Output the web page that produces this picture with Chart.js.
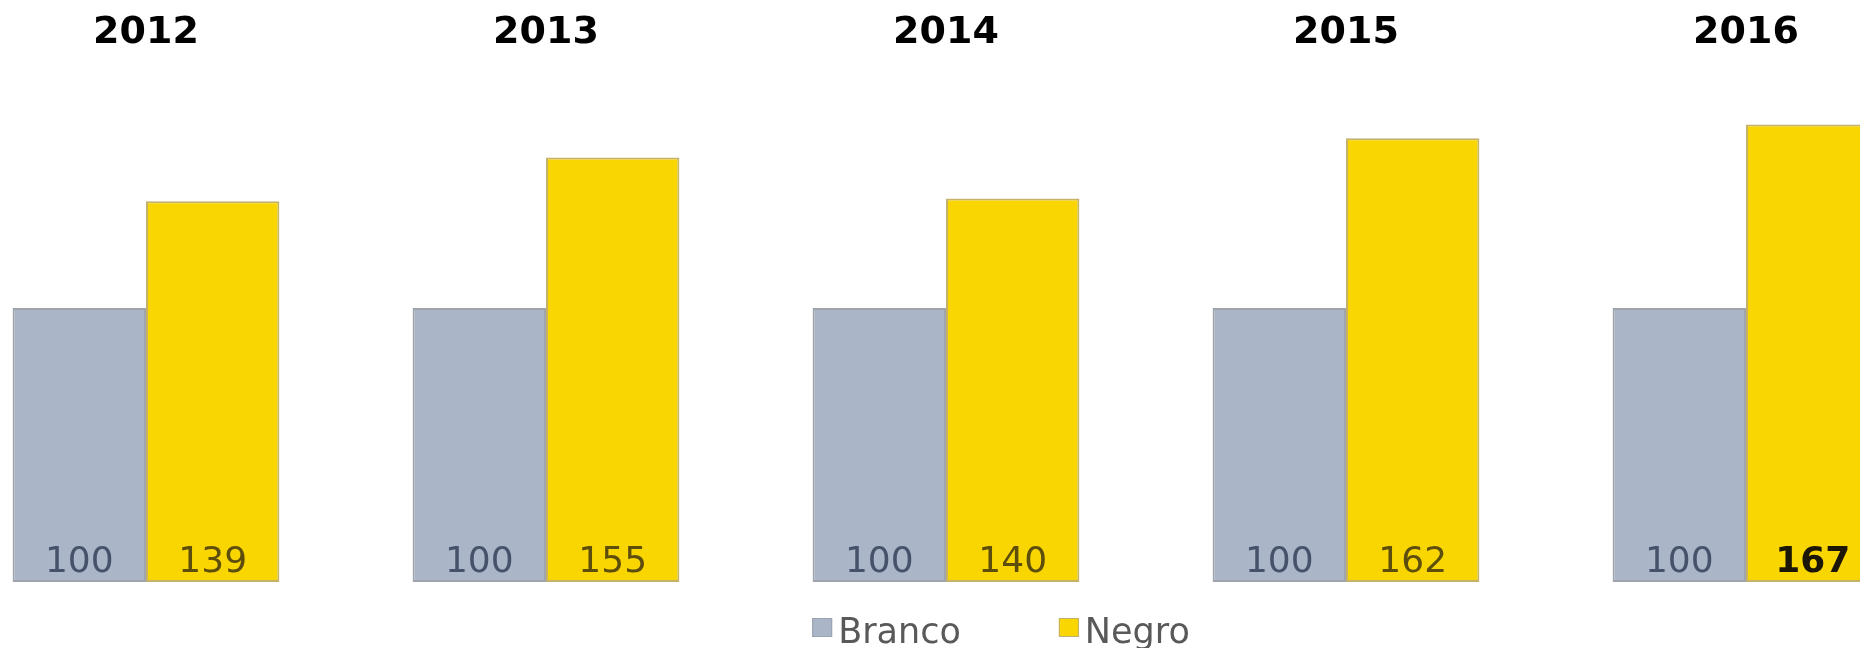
<!DOCTYPE html>
<html>
<head>
<meta charset="utf-8">
<script src="https://cdn.jsdelivr.net/npm/chart.js@4.4.1/dist/chart.umd.min.js"></script>
<style>
  html, body { margin: 0; padding: 0; background: #ffffff; overflow: hidden; width: 1860px; height: 648px; }
  #wrap { position: absolute; left: -54px; top: 0; width: 2000px; height: 648px; }
</style>
</head>
<body>
<div id="wrap"><canvas id="c" width="2000" height="648"></canvas></div>
<script>
// ---- data ----
const categories = ['2012', '2013', '2014', '2015', '2016'];
const seriesNames = ['Branco', 'Negro'];
const brancoValues = [100, 100, 100, 100, 100];
const negroValues = [139, 155, 140, 162, 167];
const negroBold = [false, false, false, false, true];

// ---- styles ----
const FONT = '"DejaVu Sans", Verdana, sans-serif';
const grayFill = '#aab5c8';
const grayBorder = '#9fa3aa';
const yellowFill = '#fad600';
const yellowBorder = '#c4b26a';

const valueLabels = {
  id: 'valueLabels',
  afterDatasetsDraw(chart) {
    const ctx = chart.ctx;
    ctx.save();
    chart.data.datasets.forEach((ds, di) => {
      const meta = chart.getDatasetMeta(di);
      meta.data.forEach((bar, i) => {
        const bold = ds.boldLabels ? ds.boldLabels[i] : false;
        ctx.font = (bold ? 'bold ' : '') + '36px ' + FONT;
        ctx.fillStyle = bold ? '#1c1606' : ds.labelColor;
        ctx.textAlign = 'center';
        ctx.textBaseline = 'alphabetic';
        ctx.fillText(String(ds.data[i]), bar.x, bar.base - 10);
      });
    });
    ctx.restore();
  }
};

const customLegend = {
  id: 'customLegend',
  afterDraw(chart) {
    const ctx = chart.ctx;
    ctx.save();
    ctx.font = '35px ' + FONT;
    const box = 20, gap = 6, itemGap = 98;
    const items = chart.data.datasets.map(ds => ({
      text: ds.label, fill: ds.backgroundColor, stroke: ds.legendBorder,
      w: ctx.measureText(ds.label).width
    }));
    let total = 0;
    items.forEach((it, k) => { total += box + gap + it.w + (k < items.length - 1 ? itemGap : 0); });
    let x = chart.width / 2 + 55 - total / 2;
    const baseY = 643;
    items.forEach(it => {
      ctx.fillStyle = it.fill;
      ctx.fillRect(x, 618, box, box - 1);
      ctx.strokeStyle = it.stroke;
      ctx.lineWidth = 1;
      ctx.strokeRect(x + 0.5, 618.5, box - 1, box - 2);
      ctx.fillStyle = '#595959';
      ctx.textAlign = 'left';
      ctx.textBaseline = 'alphabetic';
      ctx.fillText(it.text, x + box + gap, baseY);
      x += box + gap + it.w + itemGap;
    });
    ctx.restore();
  }
};

new Chart(document.getElementById('c'), {
  type: 'bar',
  data: {
    labels: categories,
    datasets: [
      {
        label: seriesNames[0],
        data: brancoValues,
        backgroundColor: grayFill,
        borderColor: grayBorder,
        legendBorder: '#9aa3b0',
        borderWidth: 2,
        borderSkipped: false,
        labelColor: '#46526a',
        categoryPercentage: 0.667,
        barPercentage: 1.0
      },
      {
        label: seriesNames[1],
        data: negroValues,
        backgroundColor: yellowFill,
        borderColor: yellowBorder,
        legendBorder: '#c0b070',
        borderWidth: 2,
        borderSkipped: false,
        labelColor: '#5e4e0c',
        boldLabels: negroBold,
        categoryPercentage: 0.667,
        barPercentage: 1.0
      }
    ]
  },
  options: {
    responsive: false,
    animation: false,
    layout: { padding: { top: 0, bottom: 66, left: 0, right: 0 } },
    plugins: {
      legend: { display: false },
      tooltip: { enabled: false },
      title: { display: false }
    },
    scales: {
      x: {
        position: 'top',
        grid: { display: false, drawTicks: false, tickLength: 0 },
        border: { display: false },
        ticks: {
          color: '#000000',
          font: { family: FONT, size: 38, weight: 'bold' },
          padding: 33,
          maxRotation: 0,
          autoSkip: false
        },
        afterFit(axis) { axis.height = 89; }
      },
      y: {
        display: false,
        min: 0,
        max: 180,
        grid: { display: false }
      }
    }
  },
  plugins: [valueLabels, customLegend]
});
</script>
</body>
</html>
